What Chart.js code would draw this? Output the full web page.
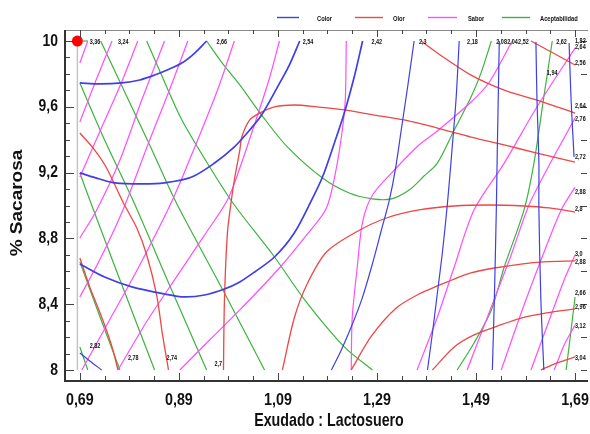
<!DOCTYPE html>
<html><head><meta charset="utf-8">
<script src="https://cdn.jsdelivr.net/npm/chart.js@4.4.1/dist/chart.umd.min.js"></script>
<style>html,body{margin:0;padding:0;background:#fff}canvas{display:block}</style>
</head><body>
<canvas id="c" width="590" height="434"></canvas>
<script>
// Axis tick values that carry a label
const xTickLabels = [0.69, 0.89, 1.09, 1.29, 1.49, 1.69];
const yTickLabels = [8, 8.4, 8.8, 9.2, 9.6, 10];
const legendNames = ['Color', 'Olor', 'Sabor', 'Aceptabilidad'];

// Contour lines, each point is [Exudado:Lactosuero, % Sacarosa]
const colorLines = [
  [[0.690,9.745],[0.730,9.739],[0.775,9.745],[0.811,9.763],[0.841,9.793],[0.871,9.830],[0.896,9.866],[0.922,9.927],[0.946,10.000]],
  [[0.690,9.198],[0.730,9.161],[0.761,9.137],[0.815,9.131],[0.861,9.137],[0.916,9.173],[0.962,9.258],[1.002,9.356],[1.033,9.459],[1.057,9.550],[1.089,9.720],[1.113,9.854],[1.134,10.000]],
  [[0.690,8.644],[0.740,8.565],[0.795,8.505],[0.861,8.462],[0.902,8.444],[0.942,8.456],[0.982,8.492],[1.013,8.535],[1.043,8.596],[1.083,8.687],[1.123,8.833],[1.158,9.033],[1.180,9.173],[1.204,9.380],[1.224,9.562],[1.244,9.781],[1.261,10.000]],
  [[1.198,8.000],[1.218,8.122],[1.238,8.261],[1.259,8.426],[1.279,8.626],[1.299,8.851],[1.315,9.033],[1.327,9.216],[1.339,9.459],[1.351,9.702],[1.365,10.000]],
  [[1.392,8.000],[1.402,8.225],[1.412,8.468],[1.422,8.711],[1.432,9.003],[1.442,9.356],[1.450,9.660],[1.456,10.000]],
  [[1.523,8.000],[1.527,8.426],[1.531,8.973],[1.533,9.337],[1.537,10.000]],
  [[1.627,8.000],[1.621,8.426],[1.617,8.973],[1.617,9.258],[1.613,9.660],[1.611,9.994]],
  [[1.678,9.988],[1.682,9.641],[1.688,9.295]],
  [[0.690,8.103],[0.710,8.055],[0.734,8.000]]
];
const olorLines = [
  [[0.690,9.441],[0.720,9.337],[0.744,9.228],[0.777,9.021],[0.805,8.863],[0.825,8.699],[0.845,8.456],[0.857,8.213],[0.869,8.000]],
  [[0.690,8.681],[0.710,8.505],[0.734,8.322],[0.755,8.140],[0.767,8.000]],
  [[0.980,8.000],[0.982,8.426],[0.988,8.833],[0.996,9.033],[1.002,9.155],[1.013,9.337],[1.017,9.416],[1.033,9.520],[1.053,9.562],[1.083,9.599],[1.123,9.611],[1.170,9.599],[1.224,9.581],[1.285,9.550],[1.345,9.520],[1.412,9.471],[1.480,9.416],[1.547,9.368],[1.613,9.319],[1.690,9.264]],
  [[1.099,8.000],[1.123,8.316],[1.148,8.517],[1.188,8.717],[1.248,8.839],[1.309,8.924],[1.375,8.973],[1.446,8.997],[1.517,9.003],[1.587,8.997],[1.638,8.985],[1.690,8.960]],
  [[1.238,8.000],[1.279,8.207],[1.329,8.377],[1.375,8.462],[1.412,8.511],[1.446,8.553],[1.480,8.590],[1.527,8.620],[1.581,8.644],[1.627,8.657],[1.690,8.663]],
  [[1.402,8.000],[1.446,8.140],[1.486,8.213],[1.533,8.267],[1.581,8.316],[1.633,8.347],[1.690,8.371]],
  [[1.621,8.000],[1.654,8.043],[1.690,8.079]],
  [[1.379,10.000],[1.412,9.927],[1.480,9.793],[1.547,9.702],[1.613,9.641],[1.690,9.562]],
  [[1.601,10.000],[1.642,9.933],[1.690,9.854]]
];
const saborLines = [
  [[0.690,9.866],[0.706,10.000]],
  [[0.690,9.508],[0.722,9.757],[0.755,10.000]],
  [[0.690,9.173],[0.730,9.447],[0.771,9.726],[0.807,10.000]],
  [[0.690,8.802],[0.724,8.973],[0.771,9.277],[0.815,9.641],[0.861,10.000]],
  [[0.690,8.444],[0.730,8.669],[0.777,8.973],[0.831,9.398],[0.871,9.702],[0.908,10.000]],
  [[0.694,8.000],[0.750,8.304],[0.811,8.638],[0.877,9.033],[0.932,9.429],[0.968,9.702],[1.002,10.000]],
  [[0.767,8.000],[0.827,8.304],[0.888,8.578],[0.942,8.821],[0.988,9.033],[1.013,9.228],[1.049,9.550],[1.073,9.775],[1.093,10.000]],
  [[0.892,8.000],[0.952,8.182],[1.013,8.365],[1.093,8.620],[1.148,8.821],[1.188,8.985],[1.208,9.228],[1.220,9.459],[1.226,9.641],[1.228,10.000]],
  [[1.238,8.000],[1.240,8.316],[1.250,8.620],[1.261,8.900],[1.281,9.064],[1.329,9.228],[1.375,9.368],[1.412,9.453],[1.480,9.629],[1.517,9.751],[1.563,10.000]],
  [[1.371,8.000],[1.412,8.322],[1.446,8.626],[1.486,8.973],[1.547,9.258],[1.613,9.599],[1.690,9.957]],
  [[1.472,8.000],[1.517,8.353],[1.561,8.699],[1.597,9.003],[1.638,9.246],[1.690,9.532]],
  [[1.541,8.000],[1.587,8.395],[1.633,8.760],[1.662,8.973],[1.690,9.112]],
  [[1.601,8.000],[1.638,8.304],[1.668,8.547],[1.690,8.699]],
  [[1.648,8.000],[1.668,8.152],[1.690,8.274]]
];
const aceptLines = [
  [[0.696,10.000],[0.706,10.000]],
  [[0.732,10.000],[0.771,9.751],[0.831,9.368],[0.882,9.033],[0.932,8.748],[0.982,8.468],[1.063,8.000]],
  [[0.690,9.745],[0.740,9.398],[0.797,9.033],[0.871,8.517],[0.946,8.000]],
  [[0.690,9.198],[0.710,9.033],[0.771,8.547],[0.841,8.000]],
  [[0.690,8.657],[0.730,8.328],[0.771,8.000]],
  [[0.690,8.140],[0.706,8.000]],
  [[0.825,10.000],[0.861,9.751],[0.896,9.520],[0.956,9.216],[1.002,9.003],[1.083,8.687],[1.144,8.426],[1.224,8.140],[1.281,8.000]],
  [[0.946,10.000],[0.976,9.872],[1.013,9.733],[1.057,9.550],[1.109,9.356],[1.180,9.167],[1.234,9.076],[1.281,9.040],[1.319,9.040],[1.355,9.094],[1.385,9.179],[1.412,9.258],[1.446,9.459],[1.480,9.660],[1.500,9.805],[1.521,10.000]],
  [[1.644,10.000],[1.627,9.660],[1.607,9.258],[1.587,8.973],[1.547,8.626],[1.521,8.365],[1.486,8.164],[1.452,8.000]],
  [[1.690,8.444],[1.682,8.243],[1.672,8.000]]
];
const optimum = [[0.685, 10.0]];
const regionEdge = [[0.685, 8.0], [0.685, 10.0]];

// Contour level labels: [text, x, y]
const contourLabels = [
  ['3,36',0.710,9.994],['3,24',0.767,9.994],['2,66',0.966,9.994],['2,54',1.140,9.994],
  ['2,42',1.279,9.994],['2,3',1.375,9.994],['2,18',1.472,9.994],['2,08',1.531,9.994],
  ['2,04',1.553,9.994],['2,52',1.575,9.994],['2,62',1.652,9.994],['1,82',1.690,10.000],
  ['2,64',1.690,9.964],['2,56',1.690,9.866],['1,94',1.633,9.805],['2,64',1.690,9.605],
  ['2,76',1.690,9.526],['2,72',1.690,9.295],['2,88',1.690,9.082],['2,8',1.690,8.979],
  ['3,0',1.690,8.705],['2,88',1.690,8.657],['2,66',1.690,8.468],['2,96',1.690,8.383],
  ['3,12',1.690,8.267],['3,04',1.690,8.073],
  ['2,82',0.710,8.146],['2,78',0.787,8.073],['2,74',0.865,8.073],['2,7',0.962,8.036]
];

const palette = { Color: '#3f3fe6', Olor: '#ef4646', Sabor: '#ff4dff', Aceptabilidad: '#3cb43c' };

function lineSet(name, pts, width) {
  return {
    label: name,
    data: pts.map(p => ({ x: p[0], y: p[1] })),
    showLine: true, fill: false, tension: 0.3,
    borderColor: palette[name], borderWidth: width,
    pointRadius: 0, pointHoverRadius: 0
  };
}

// Chart.js paints the first dataset last, so the marker comes first and the grey edge last
const datasets = [];
datasets.push({ label: 'optimo', data: optimum.map(p => ({ x: p[0], y: p[1] })), showLine: false,
  pointRadius: 5.5, pointBackgroundColor: '#ff0000', pointBorderColor: '#ff0000', pointBorderWidth: 0, clip: false });
colorLines.forEach((l, i) => datasets.push(lineSet('Color', l, i < 3 ? 1.7 : 1.2)));
olorLines.forEach(l => datasets.push(lineSet('Olor', l, 1.3)));
saborLines.forEach(l => datasets.push(lineSet('Sabor', l, 1.2)));
aceptLines.forEach(l => datasets.push(lineSet('Aceptabilidad', l, 1.2)));
datasets.push({ label: 'edge', data: regionEdge.map(p => ({ x: p[0], y: p[1] })), showLine: true,
  borderColor: '#c4c4c4', borderWidth: 1.5, pointRadius: 0 });

const fmt = v => String(v).replace('.', ',');

function drawText(ctx, s, x, y, size, sx, align, base, rot, sy) {
  ctx.save();
  ctx.translate(x, y);
  if (rot) ctx.rotate(rot);
  ctx.scale(sx, sy || 1);
  ctx.font = 'bold ' + size + 'px "Liberation Sans", Arial, sans-serif';
  ctx.textAlign = align; ctx.textBaseline = base; ctx.fillStyle = '#111';
  ctx.fillText(s, 0, 0);
  ctx.restore();
}

const frame = {
  id: 'frame',
  afterDraw(chart) {
    const ctx = chart.ctx, a = chart.chartArea, xs = chart.scales.x, ys = chart.scales.y;
    ctx.save();
    // axis lines
    ctx.lineCap = 'butt';
    ctx.strokeStyle = '#8a8a8a'; ctx.lineWidth = 1;
    ctx.beginPath(); ctx.moveTo(a.left, a.top + 0.5); ctx.lineTo(588, a.top + 0.5); ctx.stroke();
    ctx.strokeStyle = '#333'; ctx.lineWidth = 2;
    ctx.beginPath(); ctx.moveTo(a.left, a.top); ctx.lineTo(a.left, a.bottom); ctx.stroke();
    ctx.beginPath(); ctx.moveTo(a.left - 1, a.bottom); ctx.lineTo(588, a.bottom); ctx.stroke();
    // tick marks pointing into the plot
    ctx.strokeStyle = '#444'; ctx.lineWidth = 1;
    const x0 = xTickLabels[0], x1 = xTickLabels[xTickLabels.length - 1];
    const nx = Math.round((x1 - x0) / 0.05);
    for (let i = 0; i <= nx; i++) {
      const px = Math.round(xs.getPixelForValue(x0 + i * 0.05)) + 0.5;
      const major = i % 4 === 0;
      ctx.beginPath();
      ctx.moveTo(px, a.bottom - 1); ctx.lineTo(px, a.bottom - (major ? 8 : 5));
      ctx.moveTo(px, a.top); ctx.lineTo(px, a.top + (major ? 7 : 4));
      ctx.stroke();
    }
    const y0 = yTickLabels[0], y1 = yTickLabels[yTickLabels.length - 1];
    const ny = Math.round((y1 - y0) / 0.1);
    for (let i = 0; i <= ny; i++) {
      const py = Math.round(ys.getPixelForValue(y0 + i * 0.1)) + 0.5;
      const major = i % 4 === 0;
      ctx.beginPath();
      ctx.moveTo(a.left + 1, py); ctx.lineTo(a.left + (major ? 9 : 5), py);
      if (i % 2 === 0) { ctx.moveTo(a.right + 1, py); ctx.lineTo(a.right + 7, py); }
      ctx.stroke();
    }
    // tick labels
    xTickLabels.forEach(v => drawText(ctx, fmt(v), xs.getPixelForValue(v), a.bottom + 11, 17, 0.84, 'center', 'top'));
    yTickLabels.forEach(v => drawText(ctx, fmt(v), a.left - 7, ys.getPixelForValue(v), 17, 0.82, 'right', 'middle'));
    // axis titles
    drawText(ctx, 'Exudado : Lactosuero', 329, 426, 19, 0.75, 'center', 'alphabetic');
    drawText(ctx, '% Sacarosa', 22, 203, 19, 1, 'center', 'alphabetic', -Math.PI / 2, 0.85);
    // legend
    const legX = [[277, 299, 317], [355, 383, 393], [428, 457, 468], [502, 530, 540]];
    legendNames.forEach((n, i) => {
      ctx.strokeStyle = palette[n]; ctx.lineWidth = 1.4;
      ctx.beginPath(); ctx.moveTo(legX[i][0], 17.5); ctx.lineTo(legX[i][1], 17.5); ctx.stroke();
      drawText(ctx, n, legX[i][2], 18.5, 8, 0.72, 'left', 'middle');
    });
    // contour level labels
    contourLabels.forEach(l => drawText(ctx, l[0], xs.getPixelForValue(l[1]), ys.getPixelForValue(l[2]), 7, 0.78, 'left', 'middle'));
    ctx.restore();
  }
};

new Chart(document.getElementById('c'), {
  type: 'scatter',
  data: { datasets },
  options: {
    responsive: false, animation: false,
    layout: { padding: { top: 30, right: 10, left: 0, bottom: 0 } },
    plugins: { legend: { display: false }, tooltip: { enabled: false } },
    scales: {
      x: { type: 'linear', min: 0.66, max: 1.70, ticks: { display: false }, grid: { display: false }, border: { display: false },
           afterFit(s) { s.height = 53; } },
      y: { type: 'linear', min: 7.933, max: 10.067, ticks: { display: false }, grid: { display: false }, border: { display: false },
           afterFit(s) { s.width = 65; } }
    }
  },
  plugins: [frame]
});
</script>
</body></html>
